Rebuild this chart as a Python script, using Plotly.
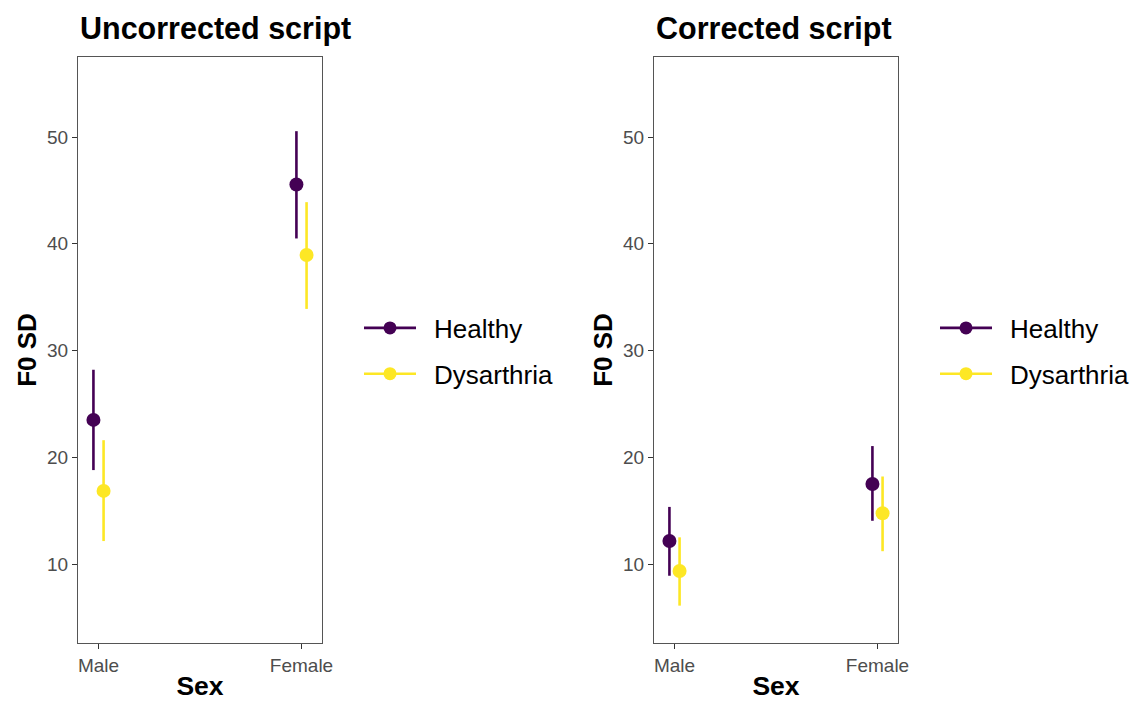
import plotly.graph_objects as go

# ---- data ----
sex = ["Male", "Female"]
groups = ["Healthy", "Dysarthria"]
colors = {"Healthy": "#440154", "Dysarthria": "#FDE725"}

uncorr_mean = {"Healthy": [23.5, 45.55], "Dysarthria": [16.85, 38.95]}
uncorr_upper = {"Healthy": [28.2, 50.55], "Dysarthria": [21.6, 43.9]}
uncorr_lower = {"Healthy": [18.8, 40.5], "Dysarthria": [12.15, 33.9]}

corr_mean = {"Healthy": [12.15, 17.5], "Dysarthria": [9.35, 14.75]}
corr_upper = {"Healthy": [15.35, 21.05], "Dysarthria": [12.5, 18.2]}
corr_lower = {"Healthy": [8.9, 14.05], "Dysarthria": [6.1, 11.2]}

panel_titles = ["Uncorrected script", "Corrected script"]
y_ticks = [10, 20, 30, 40, 50]
dodge = {"Healthy": -0.025, "Dysarthria": 0.025}

W, H = 1132, 701
FONT = "Liberation Sans, Arial, Helvetica, sans-serif"


def px_x(sx):
    return sx / W


def px_y(sy):
    return (H - sy) / H


fig = go.Figure()

panels = [(uncorr_mean, uncorr_upper, uncorr_lower), (corr_mean, corr_upper, corr_lower)]
for p, (mean, upper, lower) in enumerate(panels):
    xa = "x" if p == 0 else "x2"
    ya = "y" if p == 0 else "y2"
    leg = "legend" if p == 0 else "legend2"
    for g in groups:
        xs = [i + 1 + dodge[g] for i in range(len(sex))]
        fig.add_trace(go.Scatter(
            x=xs, y=mean[g], mode="markers",
            marker=dict(color=colors[g], size=14),
            error_y=dict(type="data", symmetric=False,
                         array=[u - m for u, m in zip(upper[g], mean[g])],
                         arrayminus=[m - l for m, l in zip(mean[g], lower[g])],
                         color=colors[g], thickness=2.6, width=0),
            xaxis=xa, yaxis=ya, showlegend=False, name=g,
        ))
        # legend entry
        fig.add_trace(go.Scatter(
            x=[None], y=[None], mode="lines+markers", name="\u2002" + g,
            line=dict(color=colors[g], width=2.6),
            marker=dict(color=colors[g], size=13),
            xaxis=xa, yaxis=ya, legend=leg, legendgroup=f"{g}{p}",
            showlegend=True,
        ))

ydom = [px_y(643), px_y(57)]

axis_common = dict(
    showgrid=False, zeroline=False, showline=True, mirror=True,
    linecolor="#555555", linewidth=1, ticks="outside", ticklen=5,
    tickcolor="#333333", tickwidth=1, automargin=False,
    tickfont=dict(family=FONT, size=19, color="#4d4d4d"),
)

for p in range(2):
    sfx = "" if p == 0 else "2"
    x0 = 78 if p == 0 else 654
    fig.layout["xaxis" + sfx] = dict(
        axis_common, domain=[px_x(x0), px_x(x0 + 244)], range=[0.899, 2.101],
        tickmode="array", tickvals=[1, 2], ticktext=sex,
        anchor="y" + sfx,
        title=dict(text="<b>Sex</b>", font=dict(family=FONT, size=26.5, color="black"), standoff=15),
    )
    fig.layout["yaxis" + sfx] = dict(
        axis_common, domain=ydom, range=[2.6, 57.5],
        tickmode="array", tickvals=y_ticks,
        anchor="x" + sfx,
        title=dict(text="<b>F0 SD</b>", font=dict(family=FONT, size=26, color="black"), standoff=2),
    )
    fig.add_annotation(
        text=f"<b>{panel_titles[p]}</b>", xref="paper", yref="paper",
        x=px_x(x0), y=px_y(28), xanchor="left", yanchor="middle",
        showarrow=False, font=dict(family=FONT, size=30.5, color="black"),
    )

leg_common = dict(
    font=dict(family=FONT, size=26, color="black"),
    bgcolor="rgba(0,0,0,0)", yanchor="middle", y=px_y(351),
    xanchor="left", tracegroupgap=9, traceorder="grouped", itemwidth=52,
)
fig.update_layout(
    legend=dict(leg_common, x=px_x(359)),
    legend2=dict(leg_common, x=px_x(935)),
)

fig.update_layout(
    width=W, height=H, margin=dict(l=0, r=0, t=0, b=0, autoexpand=False),
    plot_bgcolor="white", paper_bgcolor="white",
    font=dict(family=FONT),
)

fig.write_html("out.html", config={"displayModeBar": False},
               post_script="document.body.style.margin='0';")
